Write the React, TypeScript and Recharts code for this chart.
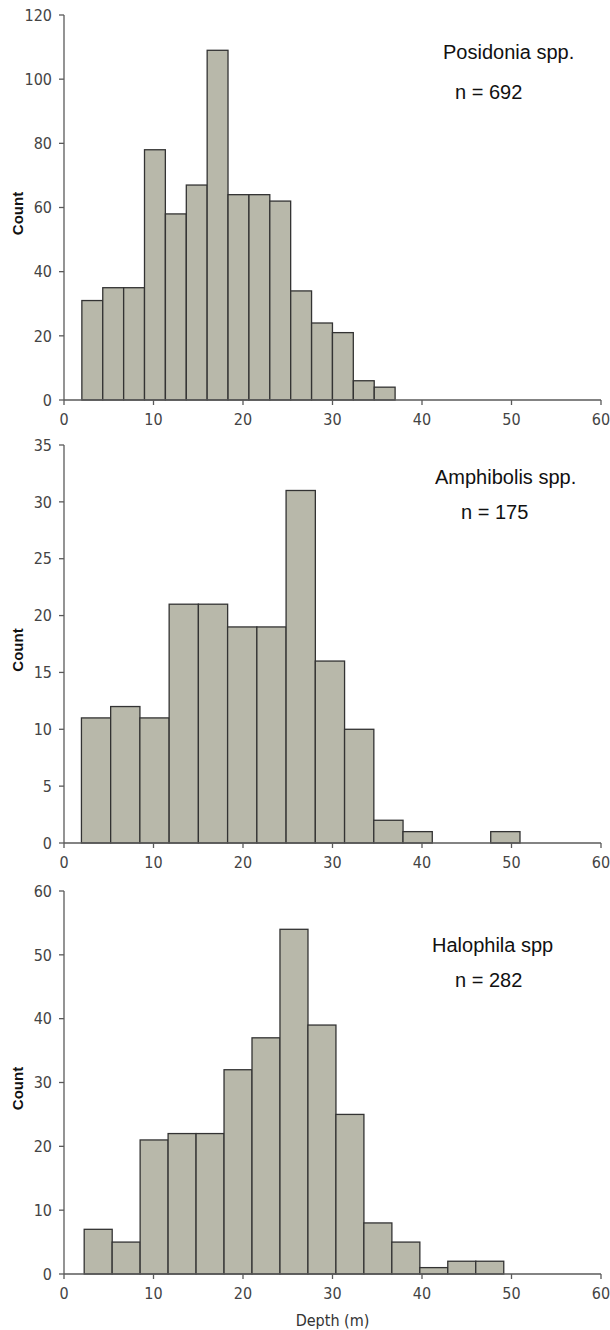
import React from 'react';
import { BarChart, Bar, XAxis, YAxis } from 'recharts';

const xTicks = [0, 10, 20, 30, 40, 50, 60];

const posidoniaEdges = [2, 4.33, 6.67, 9, 11.33, 13.67, 16, 18.33, 20.67, 23, 25.33, 27.67, 30, 32.33, 34.67, 37];
const posidoniaCounts = [31, 35, 35, 78, 58, 67, 109, 64, 64, 62, 34, 24, 21, 6, 4];
const posidoniaTicks = [0, 20, 40, 60, 80, 100, 120];

const amphibolisEdges = [2, 5.27, 8.53, 11.8, 15.07, 18.33, 21.6, 24.87, 28.13, 31.4, 34.67, 37.93, 41.2, 44.47, 47.73, 51];
const amphibolisCounts = [11, 12, 11, 21, 21, 19, 19, 31, 16, 10, 2, 1, 0, 0, 1];
const amphibolisTicks = [0, 5, 10, 15, 20, 25, 30, 35];

const halophilaEdges = [2.3, 5.43, 8.55, 11.68, 14.8, 17.93, 21.05, 24.18, 27.3, 30.43, 33.55, 36.68, 39.8, 42.93, 46.05, 49.18];
const halophilaCounts = [7, 5, 21, 22, 22, 32, 37, 54, 39, 25, 8, 5, 1, 2, 2];
const halophilaTicks = [0, 10, 20, 30, 40, 50, 60];

const CHART_W = 610;
const Y_W = 64;
const M_RIGHT = 9;
const PLOT_W = CHART_W - Y_W - M_RIGHT;
const X_MAX = 60;

const narrowFamily = '"Liberation Sans Narrow", "Arial Narrow", "DejaVu Sans Condensed", sans-serif';
const tickFont = {
  fontFamily: narrowFamily,
  fontSize: 16,
  fill: '#444',
};
const axisColor = '#5a5a5a';
const annFont = '"Liberation Sans", Arial, sans-serif';

type PanelProps = {
  top: number;
  plotH: number;
  xAxisH: number;
  edges: number[];
  counts: number[];
  yTicks: number[];
  name: string;
  nText: string;
  nameTop: number;
  nTop: number;
  nameLeft: number;
  nLeft: number;
  xLabel?: string;
};

function Panel(p: PanelProps) {
  const rows = p.counts.map((c, i) => ({
    mid: (p.edges[i] + p.edges[i + 1]) / 2,
    count: c,
  }));
  const binW = p.edges[1] - p.edges[0];
  const barPx = (binW / X_MAX) * PLOT_W;
  const marginTop = 15;
  const H = marginTop + p.plotH + p.xAxisH;
  const yMax = p.yTicks[p.yTicks.length - 1];
  const shape = (props: any) => {
    const { x, y, width, height } = props;
    if (!height || height <= 0) return <g />;
    const cx = x + width / 2;
    return (
      <rect
        x={cx - barPx / 2}
        y={y}
        width={barPx}
        height={height}
        fill="#b8b8aa"
        stroke="#333"
        strokeWidth={1.3}
      />
    );
  };
  const textStyle: React.CSSProperties = {
    position: 'absolute',
    fontFamily: annFont,
    fontSize: 20,
    color: '#111',
    whiteSpace: 'nowrap',
    lineHeight: '22px',
    transform: 'translateY(-11px)',
  };
  return (
    <div style={{ position: 'absolute', left: 0, top: p.top, width: CHART_W, height: H }}>
      <BarChart
        width={CHART_W}
        height={H}
        data={rows}
        margin={{ top: marginTop, right: M_RIGHT, left: 0, bottom: 0 }}
        barCategoryGap={0}
      >
        <XAxis
          xAxisId="b"
          dataKey="mid"
          type="number"
          domain={[0, X_MAX]}
          ticks={xTicks}
          allowDataOverflow
          height={p.xAxisH}
          tickSize={5}
          tickMargin={9}
          stroke={axisColor}
          strokeWidth={1.3}
          tick={tickFont}
          label={
            p.xLabel
              ? {
                  value: p.xLabel,
                  position: 'insideBottom',
                  offset: 4,
                  style: { ...tickFont, fill: '#333' },
                }
              : undefined
          }
        />
        <XAxis
          xAxisId="t"
          orientation="top"
          type="number"
          domain={[0, X_MAX]}
          height={0}
          tick={false}
          tickLine={false}
          stroke={axisColor}
          strokeWidth={1.3}
        />
        <YAxis
          yAxisId="l"
          type="number"
          domain={[0, yMax]}
          ticks={p.yTicks}
          width={Y_W}
          tickSize={5}
          tickMargin={7}
          stroke={axisColor}
          strokeWidth={1.3}
          tick={tickFont}
          label={{
            content: (props: any) => {
              const vb = props.viewBox || {};
              const cy = (vb.y ?? 0) + (vb.height ?? 0) / 2 + 6;
              return (
                <text
                  x={17}
                  y={cy}
                  transform={`rotate(-90 17 ${cy})`}
                  textAnchor="middle"
                  dominantBaseline="central"
                  style={{ fontFamily: annFont, fontSize: 15, fontWeight: 'bold', fill: '#111' }}
                >
                  Count
                </text>
              );
            },
          }}
        />
        <YAxis
          yAxisId="r"
          orientation="right"
          type="number"
          domain={[0, yMax]}
          width={0}
          tick={false}
          tickLine={false}
          stroke={axisColor}
          strokeWidth={1.3}
        />
        <Bar
          xAxisId="b"
          yAxisId="l"
          dataKey="count"
          barSize={barPx}
          fill="#b8b8aa"
          stroke="#333"
          shape={shape}
          isAnimationActive={false}
        />
      </BarChart>
      <div style={{ ...textStyle, left: p.nameLeft, top: p.nameTop - p.top }}>{p.name}</div>
      <div style={{ ...textStyle, left: p.nLeft, top: p.nTop - p.top }}>{p.nText}</div>
    </div>
  );
}

export default function App() {
  return (
    <div
      style={{
        position: 'absolute',
        left: 0,
        top: 0,
        width: 610,
        height: 1330,
        background: '#fff',
        overflow: 'hidden',
      }}
    >
      <Panel
        top={0}
        plotH={385}
        xAxisH={36}
        edges={posidoniaEdges}
        counts={posidoniaCounts}
        yTicks={posidoniaTicks}
        name="Posidonia spp."
        nText="n = 692"
        nameTop={52}
        nTop={92}
        nameLeft={443}
        nLeft={455}
      />
      <Panel
        top={430}
        plotH={398}
        xAxisH={34}
        edges={amphibolisEdges}
        counts={amphibolisCounts}
        yTicks={amphibolisTicks}
        name="Amphibolis spp."
        nText="n = 175"
        nameTop={477}
        nTop={512}
        nameLeft={435}
        nLeft={461}
      />
      <Panel
        top={876}
        plotH={383}
        xAxisH={56}
        edges={halophilaEdges}
        counts={halophilaCounts}
        yTicks={halophilaTicks}
        name="Halophila spp"
        nText="n = 282"
        nameTop={945}
        nTop={980}
        nameLeft={432}
        nLeft={455}
        xLabel="Depth (m)"
      />
    </div>
  );
}
